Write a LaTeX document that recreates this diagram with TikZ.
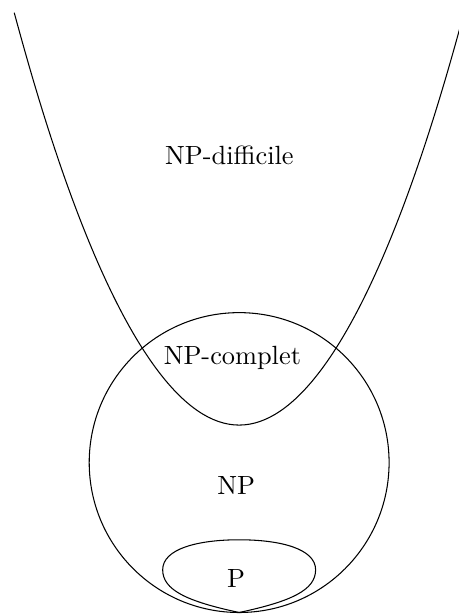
\documentclass[tikz,border=0pt]{standalone}
\usepackage{tikz}

\begin{document}
\begin{tikzpicture}[
  set/.style={draw=black, thin},
  lbl/.style={inner sep=1pt},
]
\useasboundingbox (-3.19,-2.02) rectangle (2.93,6.17);

% ensembles
\draw[set] (-3,6) parabola bend (0,0.5) (3,6);
\draw[set] (0,0) circle (2);
\draw[set] (0,-2) .. controls (-0.7,-1.85) and (-1.02,-1.7) .. (-1.02,-1.43)
  .. controls (-1.02,-1.15) and (-0.55,-1.03) .. (0,-1.03)
  .. controls (0.55,-1.03) and (1.02,-1.15) .. (1.02,-1.43)
  .. controls (1.02,-1.7) and (0.7,-1.85) .. (0,-2);

% etiquettes
\node[lbl] (hard) at (-0.13,4.1) {NP-difficile};
\node[lbl] (complete) at (-0.09,1.39) {NP-complet};
\node[lbl] (np) at (-0.04,-0.31) {NP};
\node[lbl] (p) at (-0.04,-1.54) {P};

\end{tikzpicture}
\end{document}
